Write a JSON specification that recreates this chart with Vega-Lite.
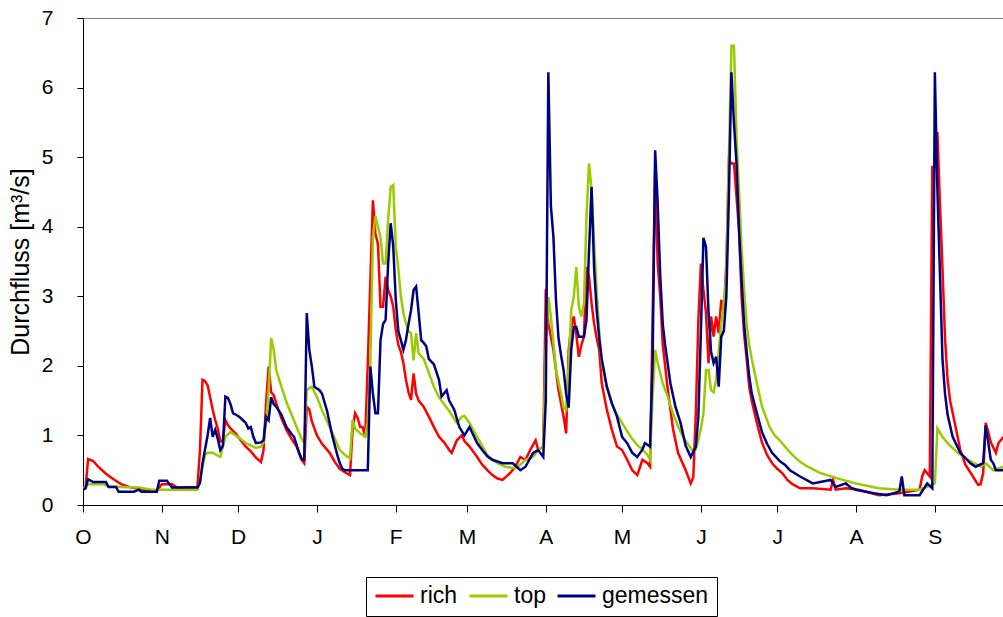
{
"$schema": "https://vega.github.io/schema/vega-lite/v6.json",
"width": 920, "height": 487,
"autosize": {"type": "none"},
"padding": {"left": 83, "top": 18, "right": 0, "bottom": 112},
"background": "white",
"config": {"view": {"stroke": null}, "font": "Liberation Sans"},
"data": {"values": [
{"tag":0,"reihe":"rich","q":0.25},{"tag":1,"reihe":"rich","q":0.25},{"tag":2,"reihe":"rich","q":0.66},{"tag":4,"reihe":"rich","q":0.63},{"tag":6,"reihe":"rich","q":0.55},{"tag":9,"reihe":"rich","q":0.45},{"tag":12,"reihe":"rich","q":0.37},{"tag":15,"reihe":"rich","q":0.3},{"tag":19,"reihe":"rich","q":0.25},{"tag":24,"reihe":"rich","q":0.22},{"tag":29,"reihe":"rich","q":0.2},{"tag":31,"reihe":"rich","q":0.3},{"tag":35,"reihe":"rich","q":0.3},{"tag":37,"reihe":"rich","q":0.25},{"tag":45,"reihe":"rich","q":0.26},{"tag":46,"reihe":"rich","q":0.79},{"tag":47,"reihe":"rich","q":1.8},{"tag":48,"reihe":"rich","q":1.78},{"tag":49,"reihe":"rich","q":1.72},{"tag":50,"reihe":"rich","q":1.55},{"tag":51,"reihe":"rich","q":1.37},{"tag":52,"reihe":"rich","q":1.22},{"tag":53,"reihe":"rich","q":1.1},{"tag":54,"reihe":"rich","q":0.91},{"tag":55,"reihe":"rich","q":0.93},{"tag":56,"reihe":"rich","q":1.22},{"tag":57,"reihe":"rich","q":1.15},{"tag":58,"reihe":"rich","q":1.1},{"tag":60,"reihe":"rich","q":1.03},{"tag":62,"reihe":"rich","q":0.93},{"tag":64,"reihe":"rich","q":0.84},{"tag":66,"reihe":"rich","q":0.77},{"tag":68,"reihe":"rich","q":0.68},{"tag":70,"reihe":"rich","q":0.62},{"tag":71,"reihe":"rich","q":0.79},{"tag":72,"reihe":"rich","q":1.46},{"tag":73,"reihe":"rich","q":1.99},{"tag":74,"reihe":"rich","q":1.62},{"tag":75,"reihe":"rich","q":1.58},{"tag":76,"reihe":"rich","q":1.46},{"tag":78,"reihe":"rich","q":1.25},{"tag":80,"reihe":"rich","q":1.08},{"tag":82,"reihe":"rich","q":0.95},{"tag":84,"reihe":"rich","q":0.84},{"tag":86,"reihe":"rich","q":0.65},{"tag":87,"reihe":"rich","q":0.6},{"tag":88,"reihe":"rich","q":1.41},{"tag":89,"reihe":"rich","q":1.37},{"tag":90,"reihe":"rich","q":1.2},{"tag":92,"reihe":"rich","q":1.0},{"tag":94,"reihe":"rich","q":0.88},{"tag":97,"reihe":"rich","q":0.75},{"tag":99,"reihe":"rich","q":0.62},{"tag":101,"reihe":"rich","q":0.52},{"tag":103,"reihe":"rich","q":0.47},{"tag":105,"reihe":"rich","q":0.43},{"tag":106,"reihe":"rich","q":1.08},{"tag":107,"reihe":"rich","q":1.32},{"tag":108,"reihe":"rich","q":1.25},{"tag":109,"reihe":"rich","q":1.12},{"tag":110,"reihe":"rich","q":1.12},{"tag":111,"reihe":"rich","q":0.98},{"tag":112,"reihe":"rich","q":2.04},{"tag":113,"reihe":"rich","q":3.23},{"tag":114,"reihe":"rich","q":4.38},{"tag":115,"reihe":"rich","q":3.9},{"tag":116,"reihe":"rich","q":3.75},{"tag":117,"reihe":"rich","q":2.85},{"tag":118,"reihe":"rich","q":2.85},{"tag":119,"reihe":"rich","q":3.28},{"tag":120,"reihe":"rich","q":3.09},{"tag":121,"reihe":"rich","q":3.0},{"tag":122,"reihe":"rich","q":2.85},{"tag":123,"reihe":"rich","q":2.52},{"tag":124,"reihe":"rich","q":2.3},{"tag":125,"reihe":"rich","q":2.2},{"tag":126,"reihe":"rich","q":2.04},{"tag":127,"reihe":"rich","q":1.8},{"tag":128,"reihe":"rich","q":1.62},{"tag":129,"reihe":"rich","q":1.51},{"tag":130,"reihe":"rich","q":1.89},{"tag":131,"reihe":"rich","q":1.6},{"tag":132,"reihe":"rich","q":1.5},{"tag":134,"reihe":"rich","q":1.41},{"tag":136,"reihe":"rich","q":1.27},{"tag":138,"reihe":"rich","q":1.12},{"tag":140,"reihe":"rich","q":0.98},{"tag":142,"reihe":"rich","q":0.9},{"tag":144,"reihe":"rich","q":0.79},{"tag":145,"reihe":"rich","q":0.75},{"tag":147,"reihe":"rich","q":0.93},{"tag":149,"reihe":"rich","q":1.0},{"tag":150,"reihe":"rich","q":0.92},{"tag":152,"reihe":"rich","q":0.84},{"tag":155,"reihe":"rich","q":0.69},{"tag":157,"reihe":"rich","q":0.58},{"tag":159,"reihe":"rich","q":0.5},{"tag":161,"reihe":"rich","q":0.43},{"tag":163,"reihe":"rich","q":0.38},{"tag":165,"reihe":"rich","q":0.36},{"tag":168,"reihe":"rich","q":0.46},{"tag":170,"reihe":"rich","q":0.55},{"tag":172,"reihe":"rich","q":0.69},{"tag":174,"reihe":"rich","q":0.65},{"tag":176,"reihe":"rich","q":0.8},{"tag":178,"reihe":"rich","q":0.93},{"tag":179,"reihe":"rich","q":0.79},{"tag":181,"reihe":"rich","q":0.84},{"tag":182,"reihe":"rich","q":3.1},{"tag":183,"reihe":"rich","q":2.61},{"tag":185,"reihe":"rich","q":2.23},{"tag":186,"reihe":"rich","q":1.94},{"tag":187,"reihe":"rich","q":1.65},{"tag":189,"reihe":"rich","q":1.27},{"tag":190,"reihe":"rich","q":1.03},{"tag":191,"reihe":"rich","q":2.23},{"tag":192,"reihe":"rich","q":2.56},{"tag":193,"reihe":"rich","q":2.71},{"tag":194,"reihe":"rich","q":2.45},{"tag":195,"reihe":"rich","q":2.13},{"tag":196,"reihe":"rich","q":2.3},{"tag":197,"reihe":"rich","q":2.42},{"tag":198,"reihe":"rich","q":3.42},{"tag":199,"reihe":"rich","q":3.28},{"tag":200,"reihe":"rich","q":2.9},{"tag":201,"reihe":"rich","q":2.61},{"tag":202,"reihe":"rich","q":2.4},{"tag":203,"reihe":"rich","q":2.23},{"tag":204,"reihe":"rich","q":1.75},{"tag":206,"reihe":"rich","q":1.37},{"tag":208,"reihe":"rich","q":1.08},{"tag":210,"reihe":"rich","q":0.84},{"tag":212,"reihe":"rich","q":0.79},{"tag":214,"reihe":"rich","q":0.65},{"tag":216,"reihe":"rich","q":0.5},{"tag":218,"reihe":"rich","q":0.43},{"tag":220,"reihe":"rich","q":0.65},{"tag":222,"reihe":"rich","q":0.6},{"tag":223,"reihe":"rich","q":0.55},{"tag":224,"reihe":"rich","q":2.66},{"tag":225,"reihe":"rich","q":4.81},{"tag":226,"reihe":"rich","q":3.47},{"tag":227,"reihe":"rich","q":3.0},{"tag":228,"reihe":"rich","q":2.3},{"tag":230,"reihe":"rich","q":1.65},{"tag":232,"reihe":"rich","q":1.1},{"tag":234,"reihe":"rich","q":0.75},{"tag":237,"reihe":"rich","q":0.5},{"tag":239,"reihe":"rich","q":0.31},{"tag":240,"reihe":"rich","q":0.4},{"tag":241,"reihe":"rich","q":1.32},{"tag":242,"reihe":"rich","q":2.66},{"tag":243,"reihe":"rich","q":3.47},{"tag":244,"reihe":"rich","q":3.09},{"tag":245,"reihe":"rich","q":2.76},{"tag":246,"reihe":"rich","q":2.04},{"tag":247,"reihe":"rich","q":2.71},{"tag":248,"reihe":"rich","q":2.42},{"tag":249,"reihe":"rich","q":2.71},{"tag":250,"reihe":"rich","q":2.47},{"tag":251,"reihe":"rich","q":2.95},{"tag":252,"reihe":"rich","q":2.76},{"tag":253,"reihe":"rich","q":3.47},{"tag":254,"reihe":"rich","q":4.96},{"tag":255,"reihe":"rich","q":4.91},{"tag":256,"reihe":"rich","q":4.91},{"tag":257,"reihe":"rich","q":4.43},{"tag":258,"reihe":"rich","q":3.95},{"tag":259,"reihe":"rich","q":2.99},{"tag":260,"reihe":"rich","q":2.45},{"tag":261,"reihe":"rich","q":2.1},{"tag":262,"reihe":"rich","q":1.7},{"tag":263,"reihe":"rich","q":1.5},{"tag":265,"reihe":"rich","q":1.18},{"tag":267,"reihe":"rich","q":0.9},{"tag":269,"reihe":"rich","q":0.72},{"tag":271,"reihe":"rich","q":0.6},{"tag":273,"reihe":"rich","q":0.52},{"tag":275,"reihe":"rich","q":0.46},{"tag":277,"reihe":"rich","q":0.36},{"tag":279,"reihe":"rich","q":0.3},{"tag":282,"reihe":"rich","q":0.24},{"tag":287,"reihe":"rich","q":0.24},{"tag":294,"reihe":"rich","q":0.22},{"tag":295,"reihe":"rich","q":0.36},{"tag":296,"reihe":"rich","q":0.22},{"tag":300,"reihe":"rich","q":0.24},{"tag":305,"reihe":"rich","q":0.22},{"tag":313,"reihe":"rich","q":0.14},{"tag":321,"reihe":"rich","q":0.17},{"tag":329,"reihe":"rich","q":0.22},{"tag":330,"reihe":"rich","q":0.41},{"tag":331,"reihe":"rich","q":0.5},{"tag":333,"reihe":"rich","q":0.41},{"tag":334,"reihe":"rich","q":4.86},{"tag":335,"reihe":"rich","q":4.86},{"tag":336,"reihe":"rich","q":5.36},{"tag":337,"reihe":"rich","q":4.34},{"tag":338,"reihe":"rich","q":3.4},{"tag":339,"reihe":"rich","q":2.4},{"tag":340,"reihe":"rich","q":1.8},{"tag":341,"reihe":"rich","q":1.5},{"tag":343,"reihe":"rich","q":1.15},{"tag":345,"reihe":"rich","q":0.79},{"tag":347,"reihe":"rich","q":0.58},{"tag":350,"reihe":"rich","q":0.41},{"tag":352,"reihe":"rich","q":0.29},{"tag":353,"reihe":"rich","q":0.3},{"tag":354,"reihe":"rich","q":0.46},{"tag":355,"reihe":"rich","q":1.18},{"tag":356,"reihe":"rich","q":1.05},{"tag":357,"reihe":"rich","q":0.9},{"tag":359,"reihe":"rich","q":0.75},{"tag":360,"reihe":"rich","q":0.89},{"tag":362,"reihe":"rich","q":0.98},
{"tag":0,"reihe":"top","q":0.22},{"tag":2,"reihe":"top","q":0.3},{"tag":8,"reihe":"top","q":0.3},{"tag":10,"reihe":"top","q":0.27},{"tag":15,"reihe":"top","q":0.26},{"tag":22,"reihe":"top","q":0.25},{"tag":27,"reihe":"top","q":0.22},{"tag":31,"reihe":"top","q":0.22},{"tag":40,"reihe":"top","q":0.22},{"tag":45,"reihe":"top","q":0.22},{"tag":46,"reihe":"top","q":0.32},{"tag":47,"reihe":"top","q":0.55},{"tag":48,"reihe":"top","q":0.72},{"tag":49,"reihe":"top","q":0.75},{"tag":51,"reihe":"top","q":0.75},{"tag":54,"reihe":"top","q":0.69},{"tag":56,"reihe":"top","q":0.98},{"tag":58,"reihe":"top","q":1.05},{"tag":60,"reihe":"top","q":1.0},{"tag":62,"reihe":"top","q":0.95},{"tag":64,"reihe":"top","q":0.89},{"tag":68,"reihe":"top","q":0.82},{"tag":70,"reihe":"top","q":0.84},{"tag":71,"reihe":"top","q":0.9},{"tag":72,"reihe":"top","q":1.18},{"tag":73,"reihe":"top","q":1.65},{"tag":74,"reihe":"top","q":2.4},{"tag":75,"reihe":"top","q":2.23},{"tag":76,"reihe":"top","q":1.94},{"tag":78,"reihe":"top","q":1.7},{"tag":80,"reihe":"top","q":1.48},{"tag":82,"reihe":"top","q":1.3},{"tag":84,"reihe":"top","q":1.12},{"tag":86,"reihe":"top","q":0.95},{"tag":87,"reihe":"top","q":0.89},{"tag":88,"reihe":"top","q":1.65},{"tag":89,"reihe":"top","q":1.68},{"tag":90,"reihe":"top","q":1.7},{"tag":92,"reihe":"top","q":1.55},{"tag":94,"reihe":"top","q":1.36},{"tag":97,"reihe":"top","q":1.12},{"tag":99,"reihe":"top","q":0.96},{"tag":101,"reihe":"top","q":0.79},{"tag":103,"reihe":"top","q":0.72},{"tag":105,"reihe":"top","q":0.67},{"tag":106,"reihe":"top","q":1.22},{"tag":107,"reihe":"top","q":1.1},{"tag":109,"reihe":"top","q":1.03},{"tag":111,"reihe":"top","q":0.98},{"tag":112,"reihe":"top","q":1.2},{"tag":113,"reihe":"top","q":2.04},{"tag":114,"reihe":"top","q":3.85},{"tag":115,"reihe":"top","q":4.15},{"tag":116,"reihe":"top","q":4.0},{"tag":117,"reihe":"top","q":3.85},{"tag":118,"reihe":"top","q":3.47},{"tag":119,"reihe":"top","q":3.47},{"tag":120,"reihe":"top","q":4.1},{"tag":121,"reihe":"top","q":4.57},{"tag":122,"reihe":"top","q":4.6},{"tag":123,"reihe":"top","q":3.71},{"tag":124,"reihe":"top","q":3.4},{"tag":125,"reihe":"top","q":3.0},{"tag":126,"reihe":"top","q":2.76},{"tag":127,"reihe":"top","q":2.61},{"tag":128,"reihe":"top","q":2.5},{"tag":129,"reihe":"top","q":2.47},{"tag":130,"reihe":"top","q":2.08},{"tag":131,"reihe":"top","q":2.47},{"tag":132,"reihe":"top","q":2.18},{"tag":134,"reihe":"top","q":2.1},{"tag":136,"reihe":"top","q":1.9},{"tag":138,"reihe":"top","q":1.7},{"tag":140,"reihe":"top","q":1.55},{"tag":142,"reihe":"top","q":1.45},{"tag":144,"reihe":"top","q":1.35},{"tag":147,"reihe":"top","q":1.18},{"tag":149,"reihe":"top","q":1.27},{"tag":150,"reihe":"top","q":1.28},{"tag":152,"reihe":"top","q":1.18},{"tag":155,"reihe":"top","q":0.98},{"tag":157,"reihe":"top","q":0.85},{"tag":159,"reihe":"top","q":0.72},{"tag":161,"reihe":"top","q":0.65},{"tag":163,"reihe":"top","q":0.6},{"tag":166,"reihe":"top","q":0.55},{"tag":170,"reihe":"top","q":0.53},{"tag":172,"reihe":"top","q":0.58},{"tag":174,"reihe":"top","q":0.65},{"tag":177,"reihe":"top","q":0.69},{"tag":179,"reihe":"top","q":0.79},{"tag":181,"reihe":"top","q":0.84},{"tag":182,"reihe":"top","q":2.23},{"tag":183,"reihe":"top","q":2.99},{"tag":184,"reihe":"top","q":2.71},{"tag":185,"reihe":"top","q":2.33},{"tag":186,"reihe":"top","q":1.94},{"tag":188,"reihe":"top","q":1.6},{"tag":189,"reihe":"top","q":1.4},{"tag":190,"reihe":"top","q":1.37},{"tag":191,"reihe":"top","q":2.0},{"tag":192,"reihe":"top","q":2.8},{"tag":193,"reihe":"top","q":2.99},{"tag":194,"reihe":"top","q":3.42},{"tag":195,"reihe":"top","q":2.85},{"tag":196,"reihe":"top","q":2.71},{"tag":197,"reihe":"top","q":2.9},{"tag":198,"reihe":"top","q":4.14},{"tag":199,"reihe":"top","q":4.91},{"tag":200,"reihe":"top","q":4.53},{"tag":201,"reihe":"top","q":3.77},{"tag":202,"reihe":"top","q":3.09},{"tag":203,"reihe":"top","q":2.5},{"tag":204,"reihe":"top","q":2.05},{"tag":206,"reihe":"top","q":1.7},{"tag":208,"reihe":"top","q":1.45},{"tag":210,"reihe":"top","q":1.3},{"tag":212,"reihe":"top","q":1.18},{"tag":214,"reihe":"top","q":1.06},{"tag":216,"reihe":"top","q":0.95},{"tag":218,"reihe":"top","q":0.86},{"tag":220,"reihe":"top","q":0.8},{"tag":222,"reihe":"top","q":0.72},{"tag":223,"reihe":"top","q":0.65},{"tag":224,"reihe":"top","q":1.56},{"tag":225,"reihe":"top","q":2.23},{"tag":226,"reihe":"top","q":2.04},{"tag":228,"reihe":"top","q":1.75},{"tag":230,"reihe":"top","q":1.55},{"tag":232,"reihe":"top","q":1.32},{"tag":234,"reihe":"top","q":1.13},{"tag":236,"reihe":"top","q":0.98},{"tag":238,"reihe":"top","q":0.87},{"tag":240,"reihe":"top","q":0.77},{"tag":241,"reihe":"top","q":0.8},{"tag":242,"reihe":"top","q":0.93},{"tag":243,"reihe":"top","q":1.1},{"tag":244,"reihe":"top","q":1.32},{"tag":245,"reihe":"top","q":1.94},{"tag":246,"reihe":"top","q":1.94},{"tag":247,"reihe":"top","q":1.65},{"tag":248,"reihe":"top","q":1.62},{"tag":249,"reihe":"top","q":1.8},{"tag":250,"reihe":"top","q":2.2},{"tag":251,"reihe":"top","q":2.61},{"tag":252,"reihe":"top","q":2.9},{"tag":253,"reihe":"top","q":3.3},{"tag":254,"reihe":"top","q":5.0},{"tag":255,"reihe":"top","q":6.6},{"tag":256,"reihe":"top","q":6.6},{"tag":257,"reihe":"top","q":5.3},{"tag":258,"reihe":"top","q":4.5},{"tag":259,"reihe":"top","q":3.7},{"tag":260,"reihe":"top","q":3.1},{"tag":261,"reihe":"top","q":2.6},{"tag":262,"reihe":"top","q":2.3},{"tag":263,"reihe":"top","q":2.1},{"tag":265,"reihe":"top","q":1.75},{"tag":267,"reihe":"top","q":1.42},{"tag":270,"reihe":"top","q":1.12},{"tag":272,"reihe":"top","q":1.0},{"tag":274,"reihe":"top","q":0.93},{"tag":277,"reihe":"top","q":0.8},{"tag":279,"reihe":"top","q":0.72},{"tag":282,"reihe":"top","q":0.62},{"tag":285,"reihe":"top","q":0.55},{"tag":290,"reihe":"top","q":0.46},{"tag":296,"reihe":"top","q":0.39},{"tag":304,"reihe":"top","q":0.31},{"tag":313,"reihe":"top","q":0.24},{"tag":321,"reihe":"top","q":0.22},{"tag":329,"reihe":"top","q":0.22},{"tag":332,"reihe":"top","q":0.26},{"tag":335,"reihe":"top","q":0.31},{"tag":336,"reihe":"top","q":1.1},{"tag":338,"reihe":"top","q":0.98},{"tag":340,"reihe":"top","q":0.89},{"tag":344,"reihe":"top","q":0.75},{"tag":348,"reihe":"top","q":0.65},{"tag":353,"reihe":"top","q":0.55},{"tag":355,"reihe":"top","q":0.6},{"tag":358,"reihe":"top","q":0.5},{"tag":362,"reihe":"top","q":0.55},
{"tag":0,"reihe":"gemessen","q":0.22},{"tag":1,"reihe":"gemessen","q":0.24},{"tag":2,"reihe":"gemessen","q":0.37},{"tag":3,"reihe":"gemessen","q":0.35},{"tag":4,"reihe":"gemessen","q":0.33},{"tag":9,"reihe":"gemessen","q":0.33},{"tag":10,"reihe":"gemessen","q":0.26},{"tag":13,"reihe":"gemessen","q":0.26},{"tag":14,"reihe":"gemessen","q":0.19},{"tag":20,"reihe":"gemessen","q":0.19},{"tag":22,"reihe":"gemessen","q":0.22},{"tag":23,"reihe":"gemessen","q":0.19},{"tag":29,"reihe":"gemessen","q":0.19},{"tag":30,"reihe":"gemessen","q":0.35},{"tag":33,"reihe":"gemessen","q":0.35},{"tag":34,"reihe":"gemessen","q":0.3},{"tag":35,"reihe":"gemessen","q":0.25},{"tag":45,"reihe":"gemessen","q":0.25},{"tag":46,"reihe":"gemessen","q":0.32},{"tag":47,"reihe":"gemessen","q":0.6},{"tag":48,"reihe":"gemessen","q":0.8},{"tag":49,"reihe":"gemessen","q":1.0},{"tag":50,"reihe":"gemessen","q":1.25},{"tag":51,"reihe":"gemessen","q":0.98},{"tag":52,"reihe":"gemessen","q":1.08},{"tag":53,"reihe":"gemessen","q":0.95},{"tag":54,"reihe":"gemessen","q":0.79},{"tag":55,"reihe":"gemessen","q":0.85},{"tag":56,"reihe":"gemessen","q":1.56},{"tag":57,"reihe":"gemessen","q":1.54},{"tag":58,"reihe":"gemessen","q":1.45},{"tag":59,"reihe":"gemessen","q":1.32},{"tag":61,"reihe":"gemessen","q":1.28},{"tag":62,"reihe":"gemessen","q":1.25},{"tag":64,"reihe":"gemessen","q":1.18},{"tag":65,"reihe":"gemessen","q":1.1},{"tag":66,"reihe":"gemessen","q":1.12},{"tag":67,"reihe":"gemessen","q":0.98},{"tag":68,"reihe":"gemessen","q":0.89},{"tag":70,"reihe":"gemessen","q":0.9},{"tag":71,"reihe":"gemessen","q":0.93},{"tag":72,"reihe":"gemessen","q":1.27},{"tag":73,"reihe":"gemessen","q":1.22},{"tag":74,"reihe":"gemessen","q":1.55},{"tag":75,"reihe":"gemessen","q":1.45},{"tag":76,"reihe":"gemessen","q":1.41},{"tag":78,"reihe":"gemessen","q":1.3},{"tag":80,"reihe":"gemessen","q":1.12},{"tag":82,"reihe":"gemessen","q":1.02},{"tag":83,"reihe":"gemessen","q":0.98},{"tag":85,"reihe":"gemessen","q":0.75},{"tag":86,"reihe":"gemessen","q":0.66},{"tag":87,"reihe":"gemessen","q":0.65},{"tag":88,"reihe":"gemessen","q":2.76},{"tag":89,"reihe":"gemessen","q":2.23},{"tag":90,"reihe":"gemessen","q":1.99},{"tag":91,"reihe":"gemessen","q":1.7},{"tag":93,"reihe":"gemessen","q":1.65},{"tag":94,"reihe":"gemessen","q":1.6},{"tag":96,"reihe":"gemessen","q":1.35},{"tag":98,"reihe":"gemessen","q":1.0},{"tag":100,"reihe":"gemessen","q":0.72},{"tag":101,"reihe":"gemessen","q":0.6},{"tag":102,"reihe":"gemessen","q":0.52},{"tag":103,"reihe":"gemessen","q":0.5},{"tag":112,"reihe":"gemessen","q":0.5},{"tag":113,"reihe":"gemessen","q":1.99},{"tag":114,"reihe":"gemessen","q":1.6},{"tag":115,"reihe":"gemessen","q":1.32},{"tag":116,"reihe":"gemessen","q":1.32},{"tag":117,"reihe":"gemessen","q":2.37},{"tag":118,"reihe":"gemessen","q":2.6},{"tag":119,"reihe":"gemessen","q":2.66},{"tag":120,"reihe":"gemessen","q":3.47},{"tag":121,"reihe":"gemessen","q":4.05},{"tag":122,"reihe":"gemessen","q":3.72},{"tag":123,"reihe":"gemessen","q":2.95},{"tag":124,"reihe":"gemessen","q":2.5},{"tag":125,"reihe":"gemessen","q":2.37},{"tag":126,"reihe":"gemessen","q":2.23},{"tag":127,"reihe":"gemessen","q":2.37},{"tag":128,"reihe":"gemessen","q":2.6},{"tag":129,"reihe":"gemessen","q":2.8},{"tag":130,"reihe":"gemessen","q":3.09},{"tag":131,"reihe":"gemessen","q":3.14},{"tag":132,"reihe":"gemessen","q":2.76},{"tag":133,"reihe":"gemessen","q":2.37},{"tag":134,"reihe":"gemessen","q":2.33},{"tag":135,"reihe":"gemessen","q":2.28},{"tag":136,"reihe":"gemessen","q":2.1},{"tag":138,"reihe":"gemessen","q":2.02},{"tag":140,"reihe":"gemessen","q":1.8},{"tag":141,"reihe":"gemessen","q":1.56},{"tag":143,"reihe":"gemessen","q":1.65},{"tag":144,"reihe":"gemessen","q":1.5},{"tag":146,"reihe":"gemessen","q":1.37},{"tag":148,"reihe":"gemessen","q":1.12},{"tag":150,"reihe":"gemessen","q":1.0},{"tag":152,"reihe":"gemessen","q":1.12},{"tag":155,"reihe":"gemessen","q":0.89},{"tag":157,"reihe":"gemessen","q":0.79},{"tag":159,"reihe":"gemessen","q":0.7},{"tag":161,"reihe":"gemessen","q":0.65},{"tag":165,"reihe":"gemessen","q":0.6},{"tag":169,"reihe":"gemessen","q":0.6},{"tag":172,"reihe":"gemessen","q":0.5},{"tag":174,"reihe":"gemessen","q":0.55},{"tag":177,"reihe":"gemessen","q":0.75},{"tag":179,"reihe":"gemessen","q":0.79},{"tag":181,"reihe":"gemessen","q":0.69},{"tag":182,"reihe":"gemessen","q":1.5},{"tag":183,"reihe":"gemessen","q":6.22},{"tag":184,"reihe":"gemessen","q":4.3},{"tag":185,"reihe":"gemessen","q":3.85},{"tag":186,"reihe":"gemessen","q":2.95},{"tag":187,"reihe":"gemessen","q":2.4},{"tag":188,"reihe":"gemessen","q":2.15},{"tag":189,"reihe":"gemessen","q":1.94},{"tag":190,"reihe":"gemessen","q":1.6},{"tag":191,"reihe":"gemessen","q":1.4},{"tag":192,"reihe":"gemessen","q":2.23},{"tag":193,"reihe":"gemessen","q":2.56},{"tag":194,"reihe":"gemessen","q":2.56},{"tag":195,"reihe":"gemessen","q":2.42},{"tag":197,"reihe":"gemessen","q":2.42},{"tag":198,"reihe":"gemessen","q":2.66},{"tag":199,"reihe":"gemessen","q":3.66},{"tag":200,"reihe":"gemessen","q":4.57},{"tag":201,"reihe":"gemessen","q":3.4},{"tag":202,"reihe":"gemessen","q":2.8},{"tag":203,"reihe":"gemessen","q":2.4},{"tag":204,"reihe":"gemessen","q":2.1},{"tag":205,"reihe":"gemessen","q":1.9},{"tag":206,"reihe":"gemessen","q":1.7},{"tag":208,"reihe":"gemessen","q":1.46},{"tag":210,"reihe":"gemessen","q":1.27},{"tag":212,"reihe":"gemessen","q":0.98},{"tag":214,"reihe":"gemessen","q":0.89},{"tag":216,"reihe":"gemessen","q":0.75},{"tag":218,"reihe":"gemessen","q":0.69},{"tag":220,"reihe":"gemessen","q":0.8},{"tag":221,"reihe":"gemessen","q":0.89},{"tag":223,"reihe":"gemessen","q":0.84},{"tag":224,"reihe":"gemessen","q":2.04},{"tag":225,"reihe":"gemessen","q":5.1},{"tag":226,"reihe":"gemessen","q":4.34},{"tag":227,"reihe":"gemessen","q":3.3},{"tag":228,"reihe":"gemessen","q":2.6},{"tag":229,"reihe":"gemessen","q":2.28},{"tag":231,"reihe":"gemessen","q":1.75},{"tag":233,"reihe":"gemessen","q":1.41},{"tag":235,"reihe":"gemessen","q":1.18},{"tag":237,"reihe":"gemessen","q":0.85},{"tag":239,"reihe":"gemessen","q":0.69},{"tag":241,"reihe":"gemessen","q":0.84},{"tag":242,"reihe":"gemessen","q":1.27},{"tag":243,"reihe":"gemessen","q":2.5},{"tag":244,"reihe":"gemessen","q":3.84},{"tag":245,"reihe":"gemessen","q":3.71},{"tag":246,"reihe":"gemessen","q":2.76},{"tag":247,"reihe":"gemessen","q":2.2},{"tag":248,"reihe":"gemessen","q":2.04},{"tag":249,"reihe":"gemessen","q":2.13},{"tag":250,"reihe":"gemessen","q":1.7},{"tag":251,"reihe":"gemessen","q":2.42},{"tag":252,"reihe":"gemessen","q":2.5},{"tag":253,"reihe":"gemessen","q":2.99},{"tag":254,"reihe":"gemessen","q":4.43},{"tag":255,"reihe":"gemessen","q":6.22},{"tag":256,"reihe":"gemessen","q":5.49},{"tag":257,"reihe":"gemessen","q":4.91},{"tag":258,"reihe":"gemessen","q":3.95},{"tag":259,"reihe":"gemessen","q":3.23},{"tag":260,"reihe":"gemessen","q":2.6},{"tag":261,"reihe":"gemessen","q":2.2},{"tag":262,"reihe":"gemessen","q":1.85},{"tag":263,"reihe":"gemessen","q":1.6},{"tag":265,"reihe":"gemessen","q":1.32},{"tag":267,"reihe":"gemessen","q":1.05},{"tag":269,"reihe":"gemessen","q":0.88},{"tag":271,"reihe":"gemessen","q":0.75},{"tag":274,"reihe":"gemessen","q":0.63},{"tag":276,"reihe":"gemessen","q":0.58},{"tag":278,"reihe":"gemessen","q":0.5},{"tag":282,"reihe":"gemessen","q":0.41},{"tag":287,"reihe":"gemessen","q":0.31},{"tag":294,"reihe":"gemessen","q":0.36},{"tag":296,"reihe":"gemessen","q":0.26},{"tag":300,"reihe":"gemessen","q":0.31},{"tag":302,"reihe":"gemessen","q":0.25},{"tag":304,"reihe":"gemessen","q":0.22},{"tag":311,"reihe":"gemessen","q":0.17},{"tag":316,"reihe":"gemessen","q":0.14},{"tag":321,"reihe":"gemessen","q":0.19},{"tag":322,"reihe":"gemessen","q":0.41},{"tag":323,"reihe":"gemessen","q":0.14},{"tag":329,"reihe":"gemessen","q":0.14},{"tag":332,"reihe":"gemessen","q":0.31},{"tag":334,"reihe":"gemessen","q":0.24},{"tag":335,"reihe":"gemessen","q":6.22},{"tag":336,"reihe":"gemessen","q":4.53},{"tag":337,"reihe":"gemessen","q":3.33},{"tag":338,"reihe":"gemessen","q":2.1},{"tag":339,"reihe":"gemessen","q":1.6},{"tag":340,"reihe":"gemessen","q":1.3},{"tag":342,"reihe":"gemessen","q":0.98},{"tag":345,"reihe":"gemessen","q":0.75},{"tag":349,"reihe":"gemessen","q":0.6},{"tag":351,"reihe":"gemessen","q":0.55},{"tag":354,"reihe":"gemessen","q":0.6},{"tag":355,"reihe":"gemessen","q":1.14},{"tag":356,"reihe":"gemessen","q":0.9},{"tag":357,"reihe":"gemessen","q":0.65},{"tag":358,"reihe":"gemessen","q":0.6},{"tag":359,"reihe":"gemessen","q":0.5},{"tag":362,"reihe":"gemessen","q":0.5}
]},
"encoding": {
  "x": {"field": "tag", "type": "quantitative",
        "scale": {"domain": [0, 361.8], "nice": false, "zero": false},
        "axis": {"title": null, "grid": false, "values": [0,31,61,92,123,151,182,212,243,273,304,335],
                 "labelExpr": "['O','N','D','J','F','M','A','M','J','J','A','S'][indexof([0,31,61,92,123,151,182,212,243,273,304,335], datum.value)]",
                 "domainColor": "black", "tickColor": "black", "tickSize": 7, "labelFontSize": 21, "labelColor": "black",
                 "labelPadding": 14, "labelFlush": false, "labelOverlap": false, "labelFont": "Liberation Sans"}},
  "y": {"field": "q", "type": "quantitative",
        "scale": {"domain": [0, 7], "nice": false},
        "axis": {"title": "Durchfluss [m³/s]", "values": [0,1,2,3,4,5,6,7], "grid": true, "gridColor": "#808080",
                 "gridOpacity": {"condition": {"test": "datum.value === 7", "value": 1}, "value": 0},
                 "domainColor": "black", "tickColor": "black", "tickSize": 6, "labelFontSize": 21, "labelColor": "black",
                 "labelPadding": 24, "labelFont": "Liberation Sans", "titleFont": "Liberation Sans", "titleFontSize": 25,
                 "titleFontWeight": "normal", "titleColor": "black", "titlePadding": 8}},
  "color": {"field": "reihe", "type": "nominal",
            "scale": {"domain": ["rich", "top", "gemessen"], "range": ["#FF0000", "#99CC00", "#000080"]},
            "legend": {"orient": "none", "legendX": 283, "legendY": 559, "direction": "horizontal", "title": null,
                       "strokeColor": "black", "fillColor": "white", "padding": 8, "symbolType": "stroke",
                       "symbolSize": 1444, "symbolStrokeWidth": 3, "clipHeight": 22, "labelFontSize": 23, "labelFont": "Liberation Sans",
                       "labelColor": "black", "labelOffset": 5, "columnPadding": 10}}
},
"layer": [
  {"transform": [{"filter": "datum.reihe === 'rich'"}], "mark": {"type": "line", "strokeWidth": 2.5, "clip": true}},
  {"transform": [{"filter": "datum.reihe === 'top'"}], "mark": {"type": "line", "strokeWidth": 2.5, "clip": true}},
  {"transform": [{"filter": "datum.reihe === 'gemessen'"}], "mark": {"type": "line", "strokeWidth": 2.5, "clip": true}}
]
}
